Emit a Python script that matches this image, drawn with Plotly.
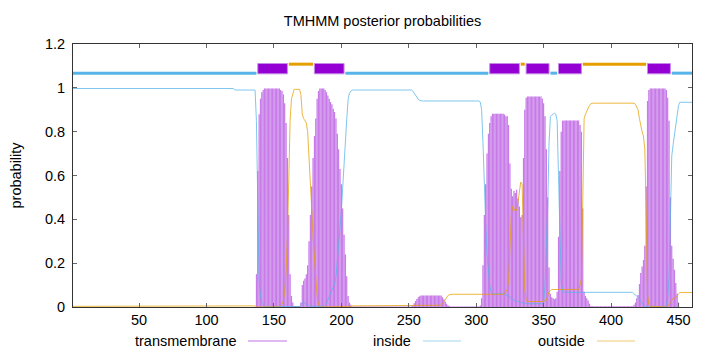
import plotly.graph_objects as go

residues = list(range(1, 461))

inside = [
0.997, 0.997, 0.997, 0.997, 0.997, 0.997, 0.997, 0.997, 0.997, 0.997, 0.997, 0.997, 0.997, 0.997, 0.997, 0.997, 0.997, 0.997, 0.997, 0.997,
0.997, 0.997, 0.997, 0.997, 0.997, 0.997, 0.997, 0.997, 0.997, 0.997, 0.997, 0.997, 0.997, 0.997, 0.997, 0.997, 0.997, 0.997, 0.997, 0.997,
0.997, 0.997, 0.997, 0.997, 0.997, 0.997, 0.997, 0.997, 0.997, 0.997, 0.997, 0.997, 0.997, 0.997, 0.997, 0.997, 0.997, 0.997, 0.997, 0.997,
0.997, 0.997, 0.997, 0.997, 0.997, 0.997, 0.997, 0.997, 0.997, 0.997, 0.997, 0.997, 0.997, 0.997, 0.997, 0.997, 0.997, 0.997, 0.997, 0.997,
0.997, 0.997, 0.997, 0.997, 0.997, 0.997, 0.997, 0.997, 0.997, 0.997, 0.997, 0.997, 0.997, 0.997, 0.997, 0.997, 0.997, 0.997, 0.997, 0.997,
0.997, 0.997, 0.997, 0.997, 0.997, 0.997, 0.997, 0.997, 0.997, 0.997, 0.997, 0.997, 0.997, 0.997, 0.997, 0.997, 0.997, 0.997, 0.997, 0.997,
0.99, 0.99, 0.99, 0.99, 0.99, 0.99, 0.99, 0.99, 0.99, 0.99, 0.99, 0.99, 0.99, 0.99, 0.99, 0.99, 0.85, 0.38, 0.12, 0.05,
0.02, 0.01, 0.002, 0.002, 0.002, 0.002, 0.002, 0.002, 0.002, 0.002, 0.002, 0.002, 0.002, 0.002, 0.002, 0.002, 0.002, 0.002, 0.002, 0.002,
0.002, 0.002, 0.002, 0.002, 0.002, 0.002, 0.002, 0.002, 0.002, 0.01, 0.02, 0.02, 0.02, 0.01, 0.01, 0.003, 0.003, 0.003, 0.003, 0.003,
0.003, 0.003, 0.003, 0.003, 0.003, 0.003, 0.003, 0.007, 0.017, 0.032, 0.047, 0.062, 0.072, 0.092, 0.107, 0.137, 0.207, 0.277, 0.367, 0.437,
0.547, 0.667, 0.757, 0.857, 0.947, 0.975, 0.985, 0.99, 0.99, 0.99, 0.99, 0.99, 0.99, 0.99, 0.99, 0.99, 0.99, 0.99, 0.99, 0.99,
0.99, 0.99, 0.99, 0.99, 0.99, 0.99, 0.99, 0.99, 0.99, 0.99, 0.99, 0.99, 0.99, 0.99, 0.99, 0.99, 0.99, 0.99, 0.99, 0.99,
0.99, 0.99, 0.99, 0.99, 0.99, 0.99, 0.99, 0.99, 0.99, 0.99, 0.99, 0.99, 0.985, 0.975, 0.965, 0.955, 0.948, 0.943, 0.94, 0.94,
0.94, 0.94, 0.94, 0.94, 0.94, 0.94, 0.94, 0.94, 0.94, 0.94, 0.94, 0.94, 0.94, 0.94, 0.94, 0.94, 0.94, 0.94, 0.94, 0.94,
0.94, 0.94, 0.94, 0.94, 0.94, 0.94, 0.94, 0.94, 0.94, 0.94, 0.94, 0.94, 0.94, 0.94, 0.94, 0.94, 0.94, 0.94, 0.94, 0.94,
0.94, 0.94, 0.935, 0.9, 0.75, 0.52, 0.38, 0.24, 0.15, 0.1, 0.07, 0.06, 0.06, 0.06, 0.06, 0.06, 0.06, 0.06, 0.06, 0.06,
0.06, 0.06, 0.05, 0.05, 0.045, 0.04, 0.035, 0.03, 0.03, 0.025, 0.025, 0.022, 0.02, 0.02, 0.02, 0.018, 0.015, 0.015, 0.015, 0.015,
0.015, 0.015, 0.015, 0.015, 0.015, 0.015, 0.015, 0.015, 0.015, 0.015, 0.1, 0.25, 0.45, 0.75, 0.87, 0.875, 0.88, 0.885, 0.88, 0.85,
0.6, 0.3, 0.12, 0.07, 0.067, 0.067, 0.067, 0.067, 0.067, 0.067, 0.067, 0.067, 0.067, 0.067, 0.067, 0.067, 0.067, 0.067, 0.067, 0.067,
0.067, 0.067, 0.067, 0.067, 0.067, 0.067, 0.067, 0.067, 0.067, 0.067, 0.067, 0.067, 0.067, 0.067, 0.067, 0.067, 0.067, 0.067, 0.067, 0.067,
0.067, 0.067, 0.067, 0.067, 0.067, 0.067, 0.067, 0.067, 0.067, 0.067, 0.067, 0.067, 0.067, 0.067, 0.067, 0.067, 0.06, 0.055, 0.05, 0.045,
0.035, 0.025, 0.015, 0.005, 0.0, 0.0, 0.0, 0.0, 0.0, 0.0, 0.0, 0.0, 0.0, 0.0, 0.0, 0.0, 0.0, 0.0, 0.0, 0.0,
0.01, 0.04, 0.14, 0.48, 0.69, 0.74, 0.79, 0.845, 0.89, 0.92, 0.934, 0.934, 0.934, 0.934, 0.934, 0.934, 0.934, 0.934, 0.934, 0.934,
]

tm = [
0.0, 0.0, 0.0, 0.0, 0.0, 0.0, 0.0, 0.0, 0.0, 0.0, 0.0, 0.0, 0.0, 0.0, 0.0, 0.0, 0.0, 0.0, 0.0, 0.0,
0.0, 0.0, 0.0, 0.0, 0.0, 0.0, 0.0, 0.0, 0.0, 0.0, 0.0, 0.0, 0.0, 0.0, 0.0, 0.0, 0.0, 0.0, 0.0, 0.0,
0.0, 0.0, 0.0, 0.0, 0.0, 0.0, 0.0, 0.0, 0.0, 0.0, 0.0, 0.0, 0.0, 0.0, 0.0, 0.0, 0.0, 0.0, 0.0, 0.0,
0.0, 0.0, 0.0, 0.0, 0.0, 0.0, 0.0, 0.0, 0.0, 0.0, 0.0, 0.0, 0.0, 0.0, 0.0, 0.0, 0.0, 0.0, 0.0, 0.0,
0.0, 0.0, 0.0, 0.0, 0.0, 0.0, 0.0, 0.0, 0.0, 0.0, 0.0, 0.0, 0.0, 0.0, 0.0, 0.0, 0.0, 0.0, 0.0, 0.0,
0.0, 0.0, 0.0, 0.0, 0.0, 0.0, 0.0, 0.0, 0.0, 0.0, 0.0, 0.0, 0.0, 0.0, 0.0, 0.0, 0.0, 0.0, 0.0, 0.0,
0.0, 0.0, 0.0, 0.0, 0.0, 0.0, 0.0, 0.0, 0.0, 0.0, 0.0, 0.0, 0.0, 0.0, 0.0, 0.0, 0.15, 0.62, 0.88, 0.95,
0.98, 0.99, 0.997, 0.997, 0.997, 0.997, 0.997, 0.997, 0.997, 0.997, 0.997, 0.997, 0.997, 0.997, 0.99, 0.985, 0.97, 0.93, 0.84, 0.68,
0.42, 0.15, 0.05, 0.02, 0.005, 0.005, 0.005, 0.005, 0.005, 0.02, 0.1, 0.12, 0.13, 0.15, 0.19, 0.3, 0.42, 0.55, 0.68, 0.78,
0.86, 0.95, 0.985, 0.997, 0.997, 0.997, 0.997, 0.99, 0.98, 0.965, 0.95, 0.935, 0.925, 0.905, 0.89, 0.86, 0.79, 0.72, 0.63, 0.56,
0.45, 0.33, 0.24, 0.14, 0.05, 0.02, 0.01, 0.002, 0.002, 0.002, 0.002, 0.002, 0.002, 0.002, 0.002, 0.002, 0.002, 0.002, 0.002, 0.002,
0.002, 0.002, 0.002, 0.002, 0.002, 0.002, 0.002, 0.002, 0.002, 0.002, 0.002, 0.002, 0.002, 0.002, 0.002, 0.002, 0.002, 0.002, 0.002, 0.002,
0.002, 0.002, 0.002, 0.002, 0.002, 0.002, 0.002, 0.002, 0.002, 0.002, 0.002, 0.002, 0.007, 0.017, 0.027, 0.037, 0.044, 0.049, 0.052, 0.052,
0.052, 0.052, 0.052, 0.052, 0.052, 0.052, 0.052, 0.052, 0.052, 0.052, 0.052, 0.052, 0.052, 0.052, 0.045, 0.035, 0.025, 0.015, 0.008, 0.004,
0.002, 0.002, 0.002, 0.002, 0.002, 0.002, 0.002, 0.002, 0.002, 0.002, 0.002, 0.002, 0.002, 0.002, 0.002, 0.002, 0.002, 0.002, 0.002, 0.002,
0.002, 0.002, 0.007, 0.04, 0.19, 0.42, 0.56, 0.7, 0.79, 0.84, 0.87, 0.882, 0.882, 0.882, 0.882, 0.882, 0.882, 0.882, 0.882, 0.882,
0.878, 0.87, 0.87, 0.83, 0.655, 0.54, 0.505, 0.53, 0.52, 0.535, 0.495, 0.458, 0.41, 0.42, 0.68, 0.9, 0.955, 0.96, 0.96, 0.96,
0.96, 0.96, 0.96, 0.96, 0.96, 0.96, 0.96, 0.96, 0.95, 0.93, 0.87, 0.72, 0.5, 0.18, 0.06, 0.045, 0.04, 0.035, 0.04, 0.07,
0.32, 0.62, 0.8, 0.85, 0.851, 0.851, 0.851, 0.851, 0.851, 0.851, 0.851, 0.851, 0.851, 0.851, 0.851, 0.851, 0.83, 0.8, 0.45, 0.07,
0.05, 0.04, 0.03, 0.015, 0.005, 0.003, 0.003, 0.003, 0.003, 0.003, 0.003, 0.003, 0.003, 0.003, 0.003, 0.003, 0.003, 0.003, 0.003, 0.003,
0.003, 0.003, 0.003, 0.003, 0.003, 0.003, 0.003, 0.003, 0.003, 0.003, 0.003, 0.003, 0.003, 0.003, 0.003, 0.003, 0.01, 0.02, 0.04, 0.055,
0.105, 0.155, 0.185, 0.215, 0.28, 0.55, 0.94, 0.99, 0.997, 0.997, 0.997, 0.997, 0.997, 0.997, 0.997, 0.997, 0.997, 0.997, 0.997, 0.997,
0.99, 0.955, 0.85, 0.5, 0.28, 0.22, 0.17, 0.11, 0.06, 0.02, 0.0, 0.0, 0.0, 0.0, 0.0, 0.0, 0.0, 0.0, 0.0, 0.0,
]

outside = [
0.003, 0.003, 0.003, 0.003, 0.003, 0.003, 0.003, 0.003, 0.003, 0.003, 0.003, 0.003, 0.003, 0.003, 0.003, 0.003, 0.003, 0.003, 0.003, 0.003,
0.003, 0.003, 0.003, 0.003, 0.003, 0.003, 0.003, 0.003, 0.003, 0.003, 0.003, 0.003, 0.003, 0.003, 0.003, 0.003, 0.003, 0.003, 0.003, 0.003,
0.003, 0.003, 0.003, 0.003, 0.003, 0.003, 0.003, 0.003, 0.003, 0.003, 0.003, 0.003, 0.003, 0.003, 0.003, 0.003, 0.003, 0.003, 0.003, 0.003,
0.003, 0.003, 0.003, 0.003, 0.003, 0.003, 0.003, 0.003, 0.003, 0.003, 0.003, 0.003, 0.003, 0.003, 0.003, 0.003, 0.003, 0.003, 0.003, 0.003,
0.003, 0.003, 0.003, 0.003, 0.003, 0.003, 0.003, 0.003, 0.003, 0.003, 0.003, 0.003, 0.003, 0.003, 0.003, 0.003, 0.003, 0.003, 0.003, 0.003,
0.003, 0.003, 0.003, 0.003, 0.003, 0.003, 0.003, 0.003, 0.003, 0.003, 0.003, 0.003, 0.003, 0.003, 0.003, 0.003, 0.003, 0.003, 0.003, 0.003,
0.005, 0.005, 0.005, 0.005, 0.005, 0.005, 0.005, 0.005, 0.005, 0.005, 0.005, 0.005, 0.005, 0.005, 0.005, 0.005, 0.0, 0.0, 0.0, 0.0,
0.0, 0.0, 0.001, 0.001, 0.001, 0.001, 0.001, 0.001, 0.001, 0.001, 0.001, 0.001, 0.001, 0.001, 0.008, 0.013, 0.03, 0.07, 0.16, 0.32,
0.58, 0.85, 0.95, 0.98, 0.993, 0.993, 0.993, 0.993, 0.993, 0.97, 0.88, 0.86, 0.85, 0.84, 0.8, 0.7, 0.58, 0.45, 0.32, 0.22,
0.14, 0.05, 0.012, 0.0, 0.0, 0.0, 0.0, 0.003, 0.003, 0.003, 0.003, 0.003, 0.003, 0.003, 0.003, 0.003, 0.003, 0.003, 0.003, 0.003,
0.003, 0.003, 0.003, 0.003, 0.003, 0.003, 0.003, 0.005, 0.005, 0.005, 0.008, 0.008, 0.008, 0.008, 0.008, 0.008, 0.008, 0.008, 0.008, 0.008,
0.008, 0.008, 0.008, 0.008, 0.008, 0.008, 0.008, 0.008, 0.008, 0.008, 0.008, 0.008, 0.008, 0.008, 0.008, 0.008, 0.008, 0.008, 0.008, 0.008,
0.008, 0.008, 0.008, 0.008, 0.008, 0.008, 0.008, 0.008, 0.008, 0.008, 0.008, 0.008, 0.008, 0.008, 0.008, 0.008, 0.008, 0.008, 0.008, 0.008,
0.008, 0.008, 0.008, 0.008, 0.008, 0.008, 0.008, 0.008, 0.008, 0.008, 0.008, 0.008, 0.008, 0.008, 0.015, 0.025, 0.035, 0.045, 0.052, 0.056,
0.058, 0.058, 0.058, 0.058, 0.058, 0.058, 0.058, 0.058, 0.058, 0.058, 0.058, 0.058, 0.058, 0.058, 0.058, 0.058, 0.058, 0.058, 0.058, 0.058,
0.058, 0.058, 0.058, 0.058, 0.058, 0.058, 0.058, 0.058, 0.058, 0.058, 0.058, 0.058, 0.058, 0.058, 0.058, 0.058, 0.058, 0.058, 0.058, 0.058,
0.062, 0.07, 0.08, 0.12, 0.3, 0.42, 0.46, 0.44, 0.45, 0.44, 0.48, 0.52, 0.57, 0.56, 0.3, 0.08, 0.03, 0.025, 0.025, 0.025,
0.025, 0.025, 0.025, 0.025, 0.025, 0.025, 0.025, 0.025, 0.025, 0.025, 0.03, 0.03, 0.05, 0.07, 0.075, 0.08, 0.08, 0.08, 0.08, 0.08,
0.08, 0.08, 0.08, 0.08, 0.08, 0.08, 0.08, 0.08, 0.08, 0.08, 0.08, 0.08, 0.08, 0.08, 0.08, 0.08, 0.1, 0.13, 0.48, 0.86,
0.88, 0.895, 0.905, 0.92, 0.928, 0.93, 0.93, 0.93, 0.93, 0.93, 0.93, 0.93, 0.93, 0.93, 0.93, 0.93, 0.93, 0.93, 0.93, 0.93,
0.93, 0.93, 0.93, 0.93, 0.93, 0.93, 0.93, 0.93, 0.93, 0.93, 0.93, 0.93, 0.93, 0.93, 0.93, 0.93, 0.93, 0.925, 0.91, 0.9,
0.86, 0.82, 0.8, 0.78, 0.72, 0.45, 0.06, 0.01, 0.003, 0.003, 0.003, 0.003, 0.003, 0.003, 0.003, 0.003, 0.003, 0.003, 0.003, 0.003,
0.0, 0.005, 0.01, 0.02, 0.03, 0.04, 0.04, 0.045, 0.05, 0.06, 0.066, 0.066, 0.066, 0.066, 0.066, 0.066, 0.066, 0.066, 0.066, 0.066,
]

# predicted topology (top bar)
topo_type = ["inside", "TMhelix", "outside", "TMhelix", "inside", "TMhelix", "outside",
             "TMhelix", "inside", "TMhelix", "outside", "TMhelix", "inside"]
topo_start = [1, 138, 161, 180, 203, 310, 333, 337, 355, 361, 379, 427, 445]
topo_end = [137, 160, 179, 202, 309, 332, 336, 354, 360, 378, 426, 444, 460]

x_ticks = [50, 100, 150, 200, 250, 300, 350, 400, 450]
y_ticks = [0, 0.2, 0.4, 0.6, 0.8, 1.0, 1.2]
y_tick_text = ["0", "0.2", "0.4", "0.6", "0.8", "1", "1.2"]
legend_names = ["transmembrane", "inside", "outside"]

assert len(inside) == len(tm) == len(outside) == len(residues)

PURPLE = "#9400d3"
BLUE = "#56b4e9"
ORANGE = "#e69f00"
FONT = "Liberation Sans, Arial, sans-serif"
FS = 14.5

# layout geometry (pixels)
W, H = 720, 352
L, R, T, B = 73, 28, 44, 45
PW, PH = W - L - R, H - T - B


def px_x(px):
    return (px - L) / PW


def px_y(py):
    return (H - B - py) / PH


fig = go.Figure()
# impulses: light halo + darker core to mimic gnuplot's antialiased 1px lines
fig.add_trace(go.Bar(x=residues, y=tm, width=1.0,
                     marker=dict(color="rgba(148,0,211,0.28)", line=dict(width=0)),
                     showlegend=False))
fig.add_trace(go.Bar(x=residues, y=tm, width=0.55,
                     marker=dict(color="rgba(148,0,211,0.45)", line=dict(width=0)),
                     showlegend=False))
fig.add_trace(go.Scatter(x=residues, y=inside, mode="lines",
                         line=dict(color=BLUE, width=1), opacity=0.75,
                         showlegend=False))
fig.add_trace(go.Scatter(x=residues, y=outside, mode="lines",
                         line=dict(color=ORANGE, width=1), opacity=0.75,
                         showlegend=False))

shapes = []
for kind, s, e in zip(topo_type, topo_start, topo_end):
    if kind == "TMhelix":
        shapes.append(dict(type="rect", xref="x", yref="y", x0=s, x1=e,
                           y0=1.064, y1=1.111, fillcolor=PURPLE,
                           line=dict(color="#c48be6", width=1)))
    elif kind == "inside":
        shapes.append(dict(type="line", xref="x", yref="y", x0=s, x1=e,
                           y0=1.067, y1=1.067, line=dict(color=BLUE, width=3)))
    else:
        shapes.append(dict(type="line", xref="x", yref="y", x0=s, x1=e,
                           y0=1.108, y1=1.108, line=dict(color=ORANGE, width=3)))

# manual gnuplot-style key: text then sample line
legend_text_right = [239, 413, 587]
legend_line_x = [(248, 287), (423, 461), (597, 635)]
legend_colors = [PURPLE, BLUE, ORANGE]
legend_y = 341
annotations = []
for name, tx, (lx0, lx1), col in zip(legend_names, legend_text_right,
                                      legend_line_x, legend_colors):
    annotations.append(dict(text=name, xref="paper", yref="paper",
                            x=px_x(tx), y=px_y(legend_y), xanchor="right",
                            yanchor="middle", showarrow=False,
                            font=dict(family=FONT, size=FS, color="#000")))
    shapes.append(dict(type="line", xref="paper", yref="paper",
                       x0=px_x(lx0), x1=px_x(lx1), y0=px_y(legend_y),
                       y1=px_y(legend_y), opacity=0.55,
                       line=dict(color=col, width=1)))

annotations.append(dict(text="probability", xref="paper", yref="paper",
                        x=px_x(15), y=0.5, xanchor="center", yanchor="middle",
                        textangle=-90, showarrow=False,
                        font=dict(family=FONT, size=FS, color="#000")))

axis_common = dict(showline=True, linecolor="#333", linewidth=1,
                   mirror="allticks", ticks="inside", ticklen=4,
                   tickcolor="#666", tickwidth=1, showgrid=False,
                   zeroline=False,
                   tickfont=dict(family=FONT, size=FS, color="#000"))

fig.update_layout(
    width=W, height=H,
    margin=dict(l=L, r=R, t=T, b=B, pad=0),
    paper_bgcolor="white", plot_bgcolor="white",
    title=dict(text="TMHMM posterior probabilities", x=0.5, xref="paper",
               xanchor="center", y=1 - 21 / H, yref="container",
               yanchor="middle",
               font=dict(family=FONT, size=FS, color="#000")),
    xaxis=dict(range=[1, 460], tickvals=x_ticks, **axis_common),
    yaxis=dict(range=[0, 1.2], tickvals=y_ticks, ticktext=y_tick_text,
               ticklabelstandoff=4, **axis_common),
    shapes=shapes,
    annotations=annotations,
    showlegend=False,
    barmode="overlay",
)

fig.write_html("out.html")
